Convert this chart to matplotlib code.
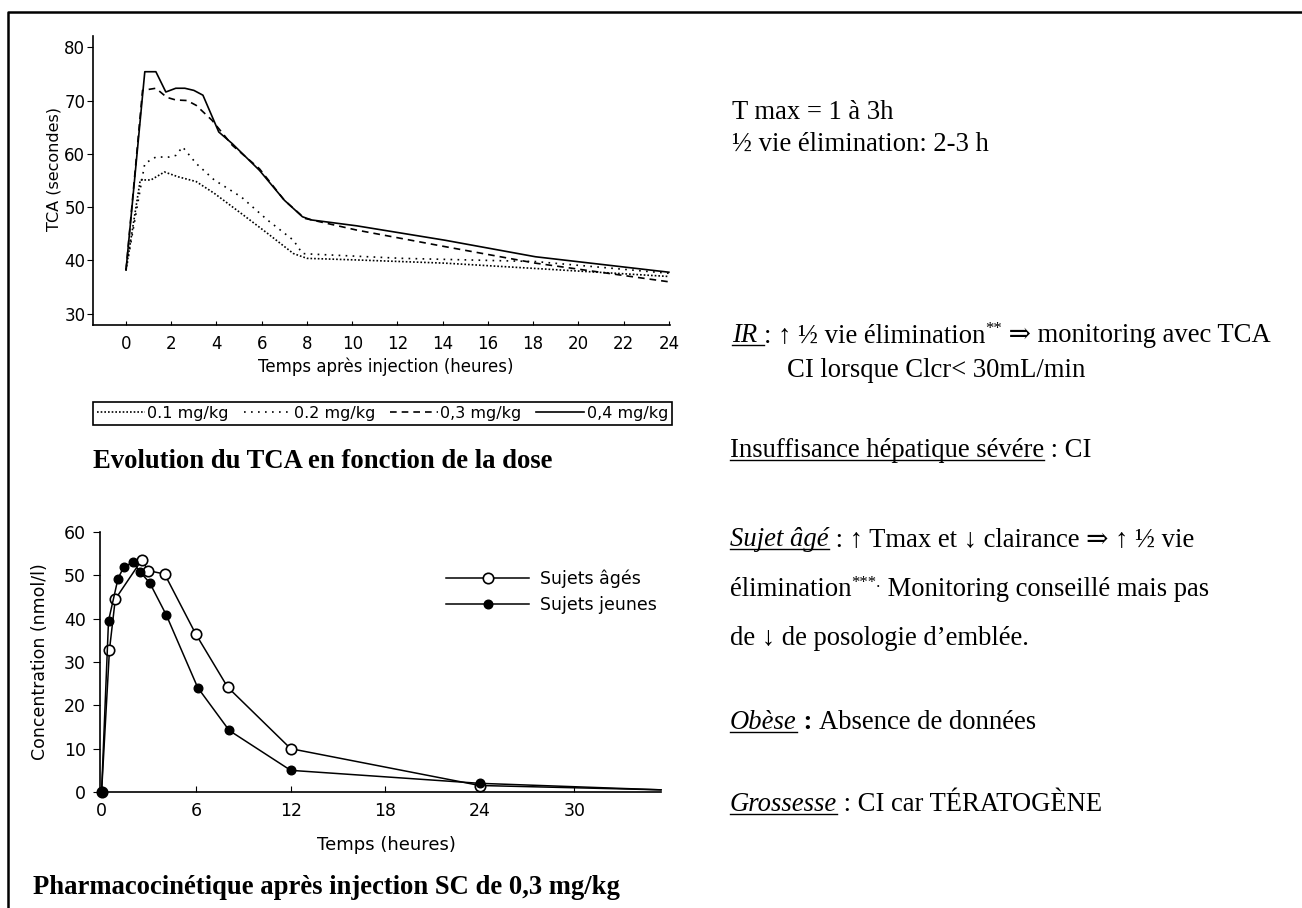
import matplotlib
matplotlib.use("Agg")
import matplotlib.pyplot as plt
from matplotlib.lines import Line2D

W, H = 1302, 908

# --- TCA selon la dose (temps en heures, TCA en secondes) ---
t_01 = [0, 0.63, 1.1, 1.7, 2.3, 3.1, 3.9, 5.1, 6.25, 7.4, 8.0, 10.2, 14.1, 18.1, 24]
tca_01 = [38.2, 55.1, 55.1, 56.6, 55.7, 54.8, 52.6, 48.8, 45.1, 41.3, 40.4, 40.1, 39.5, 38.5, 37.0]
t_02 = [0, 0.83, 1.32, 1.9, 2.2, 2.5, 3.1, 3.9, 5.1, 6.25, 7.4, 7.8, 8.2, 12.2, 18.1, 24]
tca_02 = [38.2, 58.2, 59.4, 59.4, 59.7, 61.3, 58.2, 55.1, 51.9, 47.6, 43.8, 41.3, 41.2, 40.4, 39.8, 37.6]
t_03 = [0, 0.73, 1.32, 1.8, 2.2, 2.7, 3.1, 3.8, 4.7, 5.9, 7.0, 7.9, 10.2, 14.1, 18.1, 24]
tca_03 = [38.2, 71.9, 72.3, 70.6, 70.1, 70.0, 69.1, 66.3, 61.6, 57.2, 51.3, 47.9, 45.7, 42.6, 39.5, 36.0]
t_04 = [0, 0.83, 1.32, 1.76, 2.2, 2.6, 3.0, 3.4, 4.1, 4.7, 5.9, 7.0, 7.8, 8.2, 10.2, 14.1, 18.1, 24]
tca_04 = [38.2, 75.4, 75.4, 71.6, 72.3, 72.3, 71.9, 71.0, 64.1, 61.9, 56.9, 51.3, 48.2, 47.6, 46.5, 43.8, 40.7, 37.8]
doses = ["0.1 mg/kg", "0.2 mg/kg", "0,3 mg/kg", "0,4 mg/kg"]

# --- concentration apres injection SC de 0,3 mg/kg ---
t_ages = [0, 0.5, 0.87, 2.56, 2.94, 4.0, 5.97, 8.0, 12.0, 24.0, 35.5]
c_ages = [0, 32.8, 44.5, 53.6, 51.1, 50.3, 36.5, 24.2, 10.0, 1.5, 0.5]
t_jeunes = [0, 0.44, 1.04, 1.4, 1.99, 2.46, 3.05, 4.1, 6.1, 8.1, 12.0, 24.0, 35.5]
c_jeunes = [0, 39.5, 49.2, 51.9, 53.0, 50.7, 48.3, 40.9, 24.1, 14.2, 5.0, 2.0, 0.5]

SANS = "DejaVu Sans"
SERIF = ["Liberation Serif", "DejaVu Serif"]
TXT = 19.2


def fx(px):
    return px / W


def fy(py):
    return 1 - py / H


def axes_px(fig, left, right, top, bottom):
    return fig.add_axes([fx(left), fy(bottom), (right - left) / W, (bottom - top) / H])


def draw_runs(fig, x_px, y_px, runs, size=TXT):
    """Ecrit une ligne composee de morceaux (italique, souligne, exposant)."""
    renderer = fig.canvas.get_renderer()
    x = x_px
    for txt, opts in runs:
        sz = opts.get("size", size)
        dy = opts.get("rise", 0)
        t = fig.text(fx(x), fy(y_px - dy), txt, fontsize=sz, family=SERIF,
                     style=opts.get("style", "normal"),
                     weight=opts.get("weight", "normal"), va="baseline", ha="left")
        bb = t.get_window_extent(renderer)
        if opts.get("ul"):
            fig.add_artist(Line2D([fx(bb.x0), fx(bb.x1)], [fy(y_px + 3), fy(y_px + 3)],
                                  color="black", lw=1.0, transform=fig.transFigure))
        x += bb.width


fig = plt.figure(figsize=(W / 100, H / 100), dpi=100)

# cadre de la page
fig.add_artist(Line2D([fx(8), fx(8), fx(1302)], [fy(908), fy(12), fy(12)],
                      color="black", lw=1.8, transform=fig.transFigure))

# ---------------- TCA ----------------
ax1 = axes_px(fig, 93, 670, 36, 325)
styles = [(0, (1, 1.2)), (0, (1, 3.2)), (0, (4, 3)), "-"]
series = [(t_01, tca_01), (t_02, tca_02), (t_03, tca_03), (t_04, tca_04)]
handles = []
for (tt, vv), ls, lab in zip(series, styles, doses):
    ln, = ax1.plot(tt, vv, color="black", lw=1.2, linestyle=ls, label=lab)
    handles.append(ln)
ax1.set_xlim(-1.46, 24.05)
ax1.set_ylim(27.9, 82.1)
ax1.set_xticks(range(0, 25, 2))
ax1.set_yticks(range(30, 81, 10))
for s in ("top", "right"):
    ax1.spines[s].set_visible(False)
for s in ("left", "bottom"):
    ax1.spines[s].set_linewidth(1.2)
ax1.tick_params(axis="x", direction="in", length=3, pad=7, labelsize=12)
ax1.tick_params(axis="y", direction="out", length=4, pad=1.5, labelsize=12)
for lbl in ax1.get_xticklabels() + ax1.get_yticklabels():
    lbl.set_family(SANS)
ax1.set_xlabel("Temps après injection (heures)", fontsize=12, family=SANS, va="center")
ax1.xaxis.set_label_coords(0.507, -0.145)
ax1.set_ylabel("TCA (secondes)", fontsize=11.5, family=SANS, va="center")
ax1.yaxis.set_label_coords(-0.068, 0.54)

leg1 = fig.legend(handles, doses, loc="upper left", ncol=4, mode="expand",
                  bbox_to_anchor=(fx(93), fy(431), (672 - 93) / W, 29 / H),
                  borderaxespad=0, fancybox=False, framealpha=1, edgecolor="black",
                  handlelength=3.0, handletextpad=0.15, borderpad=0.25,
                  prop={"family": SANS, "size": 11.5})
leg1.get_frame().set_linewidth(1.2)

fig.text(fx(93), fy(462), "Evolution du TCA en fonction de la dose", fontsize=TXT,
         family=SERIF, weight="bold", va="center", ha="left")

# ---------------- pharmacocinetique ----------------
ax2 = axes_px(fig, 100, 661, 532, 792)
ax2.plot(t_ages, c_ages, color="black", lw=1.1, marker="o", markersize=7.5,
         markerfacecolor="white", markeredgecolor="black", markeredgewidth=1.2,
         markevery=list(range(len(t_ages) - 1)), clip_on=False, zorder=3,
         label="Sujets âgés")
ax2.plot(t_jeunes, c_jeunes, color="black", lw=1.1, marker="o", markersize=6.2,
         markerfacecolor="black", markeredgecolor="black",
         markevery=list(range(len(t_jeunes) - 1)), clip_on=False, zorder=4,
         label="Sujets jeunes")
ax2.set_xlim(-0.1, 35.5)
ax2.set_ylim(0, 60)
ax2.set_xticks(range(0, 31, 6))
ax2.set_yticks(range(0, 61, 10))
for s in ("top", "right"):
    ax2.spines[s].set_visible(False)
for s in ("left", "bottom"):
    ax2.spines[s].set_linewidth(1.2)
ax2.tick_params(axis="x", direction="in", length=4, pad=7, labelsize=12.5)
ax2.tick_params(axis="y", direction="out", length=5, pad=5, labelsize=12.5)
for lbl in ax2.get_xticklabels() + ax2.get_yticklabels():
    lbl.set_family(SANS)
ax2.set_xlabel("Temps (heures)", fontsize=13, family=SANS, va="center")
ax2.xaxis.set_label_coords(0.51, -0.204)
ax2.set_ylabel("Concentration (nmol/l)", fontsize=12.5, family=SANS, va="center")
ax2.yaxis.set_label_coords(-0.107, 0.5)
ax2.legend(loc="upper left", bbox_to_anchor=(fx(446), fy(570)),
           bbox_transform=fig.transFigure, frameon=False,
           borderaxespad=0, borderpad=0, handlelength=4.8, handletextpad=0.6,
           labelspacing=0.45, prop={"family": SANS, "size": 12.5})

fig.text(fx(33), fy(887), "Pharmacocinétique après injection SC de 0,3 mg/kg",
         fontsize=TXT, family=SERIF, weight="bold", va="center", ha="left")

# ---------------- texte a droite ----------------
N = {}
IT_UL = {"style": "italic", "ul": True}
UL = {"ul": True}
SUP = {"size": 12, "rise": 9}

draw_runs(fig, 732, 119, [("T max = 1 à 3h", N)])
draw_runs(fig, 732, 151, [("½ vie élimination: 2-3 h", N)])
draw_runs(fig, 732, 342, [("IR ", IT_UL), (": ↑ ½ vie élimination", N), ("**", SUP),
                          (" ⇒ monitoring avec TCA", N)])
draw_runs(fig, 787, 377, [("CI lorsque Clcr< 30mL/min", N)])
draw_runs(fig, 730, 457, [("Insuffisance hépatique sévére", UL), (" : CI", N)])
draw_runs(fig, 730, 546, [("Sujet âgé", IT_UL), (" : ↑ Tmax et ↓ clairance ⇒ ↑ ½ vie", N)])
draw_runs(fig, 730, 596, [("élimination", N), ("***.", SUP),
                          (" Monitoring conseillé mais pas", N)])
draw_runs(fig, 730, 645, [("de ↓ de posologie d’emblée.", N)])
draw_runs(fig, 730, 729, [("Obèse", IT_UL), (" : ", {"weight": "bold"}),
                          ("Absence de données", N)])
draw_runs(fig, 730, 811, [("Grossesse", IT_UL), (" : CI car TÉRATOGÈNE", N)])

fig.savefig("out.png", dpi=100)
